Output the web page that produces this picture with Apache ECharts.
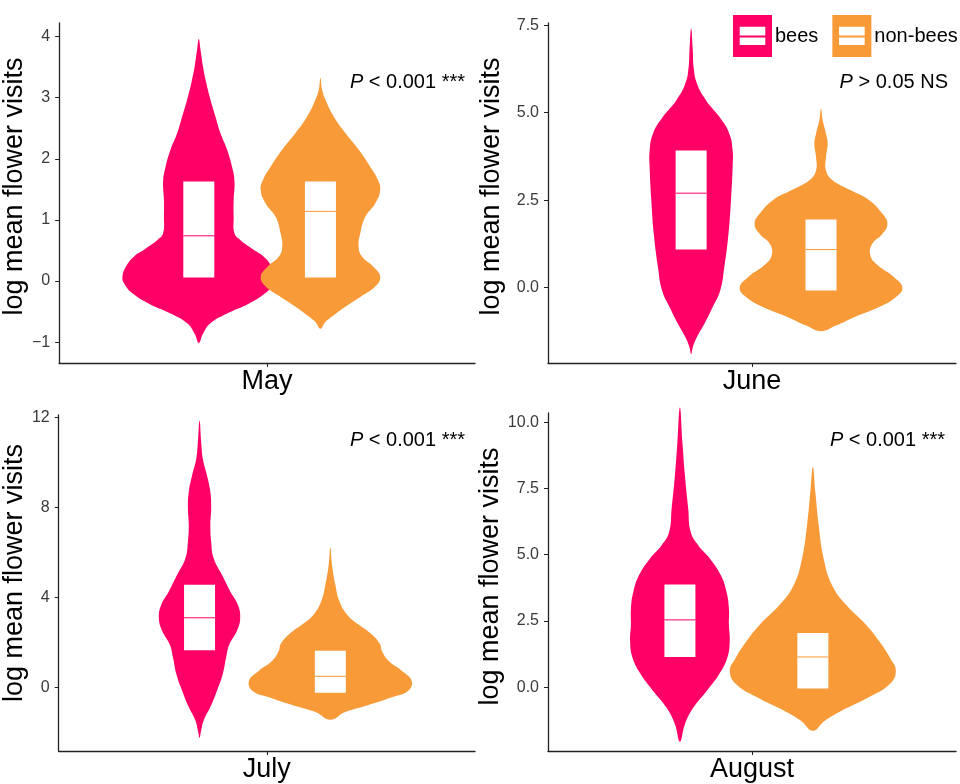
<!DOCTYPE html>
<html>
<head>
<meta charset="utf-8">
<title>Flower visits by month</title>
<script src="https://cdn.jsdelivr.net/npm/echarts@6/dist/echarts.min.js"></script>
<style>
  html, body { margin: 0; padding: 0; background: #fff; }
  #chart { width: 960px; height: 784px; }
</style>
</head>
<body>
<div id="chart"></div>
<script>
// ---- data -------------------------------------------------------------
const months = ['May', 'June', 'July', 'August'];
const groups = ['bees', 'non-bees'];
const pLabels = ['P < 0.001 ***', 'P > 0.05 NS', 'P < 0.001 ***', 'P < 0.001 ***'];

// y-axis tick values per month
const mayTicks = [-1, 0, 1, 2, 3, 4];
const juneTicks = [0, 2.5, 5, 7.5];
const julyTicks = [0, 4, 8, 12];
const augustTicks = [0, 2.5, 5, 7.5, 10];

// violin outlines: log visits (y) and relative density (d)
const mayBeesY = [-1.01, -0.86, -0.69, -0.53, -0.37, -0.20, -0.04, 0.07, 0.23, 0.40, 0.51, 0.67, 0.78, 1.05, 1.33, 1.63, 1.87, 2.15, 2.42, 2.69, 2.97, 3.24, 3.51, 3.79, 3.96];
const mayBeesD = [0, 0.05, 0.14, 0.34, 0.60, 0.80, 0.90, 0.92, 0.88, 0.78, 0.66, 0.50, 0.43, 0.42, 0.42, 0.43, 0.40, 0.34, 0.26, 0.20, 0.14, 0.09, 0.05, 0.02, 0];
const mayNonBeesY = [-0.78, -0.67, -0.56, -0.42, -0.26, -0.09, 0.07, 0.23, 0.40, 0.56, 0.78, 1.05, 1.27, 1.49, 1.66, 1.87, 2.15, 2.42, 2.69, 2.97, 3.13, 3.32];
const mayNonBeesD = [0, 0.06, 0.16, 0.30, 0.48, 0.66, 0.72, 0.64, 0.50, 0.46, 0.48, 0.54, 0.66, 0.72, 0.69, 0.60, 0.46, 0.30, 0.16, 0.06, 0.02, 0];

const juneBeesY = [-1.90, -1.70, -1.41, -1.03, -0.55, -0.08, 0.59, 1.54, 2.50, 3.45, 3.92, 4.40, 4.88, 5.35, 5.83, 6.30, 6.78, 7.40];
const juneBeesD = [0, 0.02, 0.07, 0.16, 0.26, 0.35, 0.40, 0.45, 0.48, 0.50, 0.50, 0.46, 0.34, 0.18, 0.07, 0.03, 0.02, 0];
const juneNonBeesY = [-1.24, -1.08, -0.84, -0.55, -0.27, 0.00, 0.30, 0.69, 0.97, 1.26, 1.54, 1.83, 2.11, 2.50, 2.78, 3.07, 3.35, 3.73, 4.11, 4.40, 4.78, 5.11];
const juneNonBeesD = [0, 0.18, 0.40, 0.70, 0.90, 0.98, 0.88, 0.66, 0.59, 0.62, 0.74, 0.80, 0.74, 0.58, 0.36, 0.14, 0.06, 0.06, 0.08, 0.06, 0.02, 0];

const julyBeesY = [-2.24, -1.91, -1.47, -0.88, -0.15, 0.59, 1.32, 1.91, 2.50, 3.09, 3.68, 4.26, 5.00, 5.74, 6.47, 7.21, 7.94, 8.68, 9.41, 10.15, 10.88, 11.84];
const julyBeesD = [0, 0.02, 0.05, 0.13, 0.21, 0.28, 0.32, 0.36, 0.45, 0.49, 0.46, 0.37, 0.27, 0.17, 0.14, 0.13, 0.14, 0.13, 0.09, 0.04, 0.02, 0];
const julyNonBeesY = [-1.44, -1.10, -0.81, -0.44, -0.15, 0.29, 0.74, 1.18, 1.62, 1.91, 2.35, 2.79, 3.24, 3.82, 4.56, 5.44, 6.21];
const julyNonBeesD = [0, 0.18, 0.44, 0.74, 0.94, 0.98, 0.86, 0.70, 0.62, 0.60, 0.50, 0.34, 0.20, 0.11, 0.06, 0.02, 0];

const augustBeesY = [-2.06, -1.40, -0.78, -0.15, 0.48, 1.10, 1.73, 2.36, 2.98, 3.61, 4.24, 4.86, 5.36, 5.86, 6.74, 8.00, 9.25, 10.56];
const augustBeesD = [0, 0.06, 0.16, 0.32, 0.47, 0.57, 0.60, 0.59, 0.59, 0.56, 0.49, 0.36, 0.22, 0.13, 0.10, 0.06, 0.03, 0];
const augustNonBeesY = [-1.65, -1.28, -0.90, -0.40, 0.10, 0.60, 1.10, 1.73, 2.36, 3.11, 3.86, 4.86, 6.12, 7.37, 8.31];
const augustNonBeesD = [0, 0.14, 0.34, 0.66, 0.92, 1.00, 0.93, 0.80, 0.64, 0.40, 0.23, 0.13, 0.07, 0.03, 0];

// box summaries [lower hinge, median, upper hinge] per month
const boxBees = [[0.06, 0.74, 1.63], [1.09, 2.70, 3.92], [1.65, 3.09, 4.56], [1.14, 2.54, 3.88]];
const boxNonBees = [[0.06, 1.14, 1.63], [-0.08, 1.09, 1.95], [-0.24, 0.49, 1.62], [-0.05, 1.14, 2.04]];

// ---- layout & style ---------------------------------------------------
const FONT = "'Liberation Sans', Arial, Helvetica, sans-serif";
const COLORS = ['#FF0066', '#F89A38'];
const AXIS_COLOR = '#222';
const VIOLIN_HALF_PX = 83;   // half width of a density of 1
const BOX_HALF_PX = 15.5;

const profiles = [
  [[mayBeesY, mayBeesD], [mayNonBeesY, mayNonBeesD]],
  [[juneBeesY, juneBeesD], [juneNonBeesY, juneNonBeesD]],
  [[julyBeesY, julyBeesD], [julyNonBeesY, julyNonBeesD]],
  [[augustBeesY, augustBeesD], [augustNonBeesY, augustNonBeesD]]
];
const ticks = [mayTicks, juneTicks, julyTicks, augustTicks];
const boxes = [boxBees, boxNonBees];

const panels = [
  { grid: { left: 58, top: 23, width: 417, height: 340 }, y: [-1.34, 4.22], dodge: [0.803, 1.154], nameGap: 27, shift: 13,
    fmt: v => (v < 0 ? '\u2212' + Math.abs(v) : String(v)), pAt: [465, 82] },
  { grid: { left: 548, top: 23, width: 408, height: 340 }, y: [-2.15, 7.56], dodge: [0.821, 1.203], nameGap: 43, shift: 13,
    fmt: v => v.toFixed(1), pAt: [948, 82] },
  { grid: { left: 58, top: 415, width: 417, height: 338 }, y: [-2.83, 12.1], dodge: [0.806, 1.183], nameGap: 27, shift: 20,
    fmt: v => String(v), pAt: [465, 440] },
  { grid: { left: 548, top: 413, width: 408, height: 339 }, y: [-2.41, 10.35], dodge: [0.788, 1.179], nameGap: 43, shift: 11,
    fmt: v => v.toFixed(1), pAt: [945, 440] }
];

function violinRenderer(ys, ds, color) {
  return function (params, api) {
    const xc = api.value(0);
    const right = [];
    const left = [];
    for (let i = 0; i < ys.length; i++) {
      const c = api.coord([xc, ys[i]]);
      const hw = ds[i] * VIOLIN_HALF_PX;
      right.push([c[0] + hw, c[1]]);
      left.unshift([c[0] - hw, c[1]]);
    }
    const outline = right.concat(left.slice(1, -1));
    const top = api.coord([xc, api.value(3)]);
    const bottom = api.coord([xc, api.value(1)]);
    const mid = api.coord([xc, api.value(2)]);
    return {
      type: 'group',
      children: [
        { type: 'polygon', shape: { points: outline, smooth: 0.45 }, style: { fill: color } },
        { type: 'rect', shape: { x: top[0] - BOX_HALF_PX, y: top[1], width: BOX_HALF_PX * 2, height: bottom[1] - top[1] },
          style: { fill: '#fff' } },
        { type: 'line', shape: { x1: mid[0] - BOX_HALF_PX, y1: mid[1], x2: mid[0] + BOX_HALF_PX, y2: mid[1] },
          style: { stroke: color, lineWidth: 1 } }
      ]
    };
  };
}

const grid = [], xAxis = [], yAxis = [], series = [], graphic = [];
panels.forEach((p, i) => {
  grid.push(p.grid);
  xAxis.push({
    type: 'value', gridIndex: i, min: 0.4, max: 1.6,
    name: months[i], nameLocation: 'middle', nameGap: 5,
    nameTextStyle: { fontSize: 27, color: '#000', fontFamily: FONT },
    axisLine: { show: true, onZero: false, lineStyle: { color: AXIS_COLOR, width: 1.3 } },
    axisTick: { show: true, customValues: [1], length: 4, lineStyle: { color: AXIS_COLOR } },
    axisLabel: { show: false },
    splitLine: { show: false }
  });
  yAxis.push({
    type: 'value', gridIndex: i, min: p.y[0], max: p.y[1],
    name: 'log mean flower visits', nameLocation: 'middle', nameGap: p.nameGap,
    nameTextStyle: { fontSize: 27, color: '#000', fontFamily: FONT, padding: [0, 0, 0, p.shift] },
    axisLine: { show: true, onZero: false, lineStyle: { color: AXIS_COLOR, width: 1.3 } },
    axisTick: { show: true, customValues: ticks[i], length: 4, lineStyle: { color: AXIS_COLOR } },
    axisLabel: { customValues: ticks[i], formatter: p.fmt, fontSize: 16, color: '#3a3a3a', fontFamily: FONT, margin: 9 },
    splitLine: { show: false }
  });
  groups.forEach((g, k) => {
    const b = boxes[k][i];
    series.push({
      type: 'custom', name: g, xAxisIndex: i, yAxisIndex: i,
      itemStyle: { color: COLORS[k] },
      silent: true,
      encode: { x: 0, y: [1, 2, 3] },
      data: [[p.dodge[k], b[0], b[1], b[2]]],
      renderItem: violinRenderer(profiles[i][k][0], profiles[i][k][1], COLORS[k])
    });
  });
  const label = pLabels[i];
  graphic.push({
    type: 'text', x: p.pAt[0], y: p.pAt[1], silent: true,
    style: {
      text: '{i|' + label.charAt(0) + '}' + label.slice(1),
      fontSize: 20, fontFamily: FONT, fill: '#000', align: 'right', verticalAlign: 'middle',
      rich: { i: { fontStyle: 'italic', fontSize: 20, fontFamily: FONT, fill: '#000' } }
    }
  });
});

// legend key: filled square with a split white box
const KEY_ICON = 'path://M0,0H39V42H0Z M6.7,11.7V20.4H32.3V11.7Z M6.7,22.4V30H32.3V22.4Z';

const chart = echarts.init(document.getElementById('chart'), null, { renderer: 'canvas' });
chart.setOption({
  animation: false,
  backgroundColor: '#fff',
  textStyle: { fontFamily: FONT },
  legend: {
    left: 733, top: 15, padding: 0, itemGap: 14, itemWidth: 39, itemHeight: 42,
    icon: KEY_ICON,
    data: groups,
    textStyle: { fontSize: 20, color: '#000', fontFamily: FONT, padding: [0, 0, 0, -2] },
    selectedMode: false
  },
  grid, xAxis, yAxis, series, graphic
});
</script>
</body>
</html>
